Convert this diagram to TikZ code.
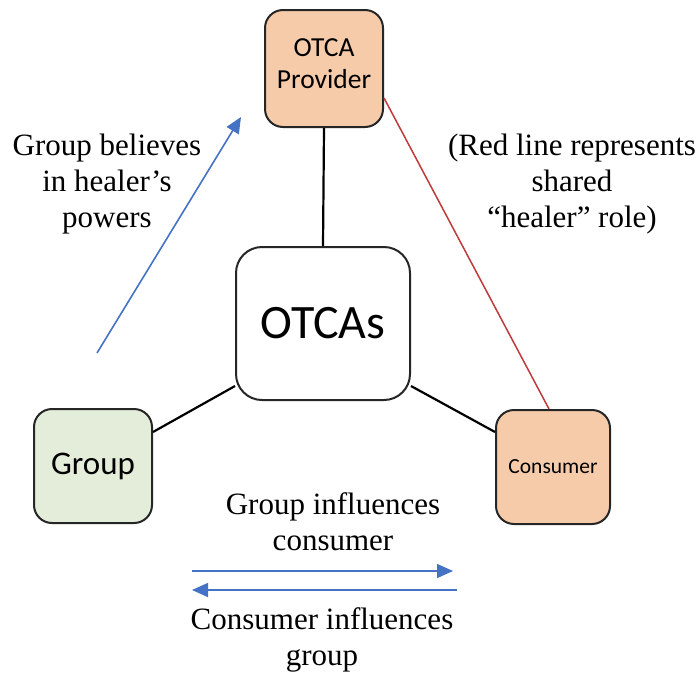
\documentclass[tikz,border=0pt]{standalone}
\usepackage{fontspec}
\setmainfont{Liberation Serif}
\newfontfamily\boxfont{Carlito}
\usetikzlibrary{arrows.meta}
\definecolor{peach}{HTML}{F6CBAA}
\definecolor{palegreen}{HTML}{E3EDD9}
\definecolor{arrowblue}{HTML}{4472C4}
\definecolor{redline}{HTML}{C0393B}
\tikzset{
  box/.style={draw=black!85, line width=2pt, rounded corners=18pt, align=center, inner sep=0pt},
  lbl/.style={align=center, font=\fontsize{31}{36}\selectfont, inner sep=0pt},
  conn/.style={line width=2.2pt, black},
  bluearrow/.style={draw=arrowblue, line width=1.6pt, -{Triangle[length=16pt,width=14pt]}}
}
\begin{document}
\begin{tikzpicture}[x=1pt,y=-1pt]
\useasboundingbox (0,0) rectangle (700,675);
\node[box, fill=peach, minimum width=118pt, minimum height=117pt, font=\boxfont\fontsize{27.5}{32}\selectfont] (prov) at (324,68.5) {};
\node[align=center, inner sep=0pt, font=\boxfont\fontsize{27.5}{32}\selectfont] (provtext) at (324,64) {OTCA\\Provider};
\node[box, fill=white, rounded corners=26pt, minimum width=174pt, minimum height=153pt, font=\boxfont\fontsize{48}{56}\selectfont] (otca) at (323,323.5) {OTCAs};
\node[box, fill=palegreen, minimum width=118pt, minimum height=114pt, font=\boxfont\fontsize{33}{38}\selectfont] (grp) at (93,466) {Group};
\node[box, fill=peach, minimum width=114pt, minimum height=114pt, font=\boxfont\fontsize{21.5}{26}\selectfont] (cons) at (553,467) {Consumer};

\draw[conn] (prov.south) -- (otca.north);
\draw[conn] (grp.east |- 0,432) -- (otca.west |- 0,386);
\draw[conn] (cons.west |- 0,432) -- (otca.east |- 0,386);
\draw[redline, line width=1.5pt] (prov.east |- 0,98) -- (cons.north -| 549,0);

\coordinate (bstart) at (97,353);
\coordinate (bend) at (241,117);
\draw[bluearrow] (bstart) -- (bend);

\coordinate (r1) at (192,571);
\coordinate (r2) at (453,571);
\coordinate (l1) at (457,590);
\coordinate (l2) at (192,590);
\draw[bluearrow] (r1) -- (r2);
\draw[bluearrow] (l1) -- (l2);

\node[lbl] (t1) at (107,184) {Group believes\\in healer’s\\powers};
\node[lbl] (t2) at (572,184) {(Red line represents\\shared\\“healer” role)};
\node[lbl] (t3) at (333,522) {Group influences\\consumer};
\node[lbl] (t4) at (322,640) {Consumer influences\\group};
\end{tikzpicture}
\end{document}
